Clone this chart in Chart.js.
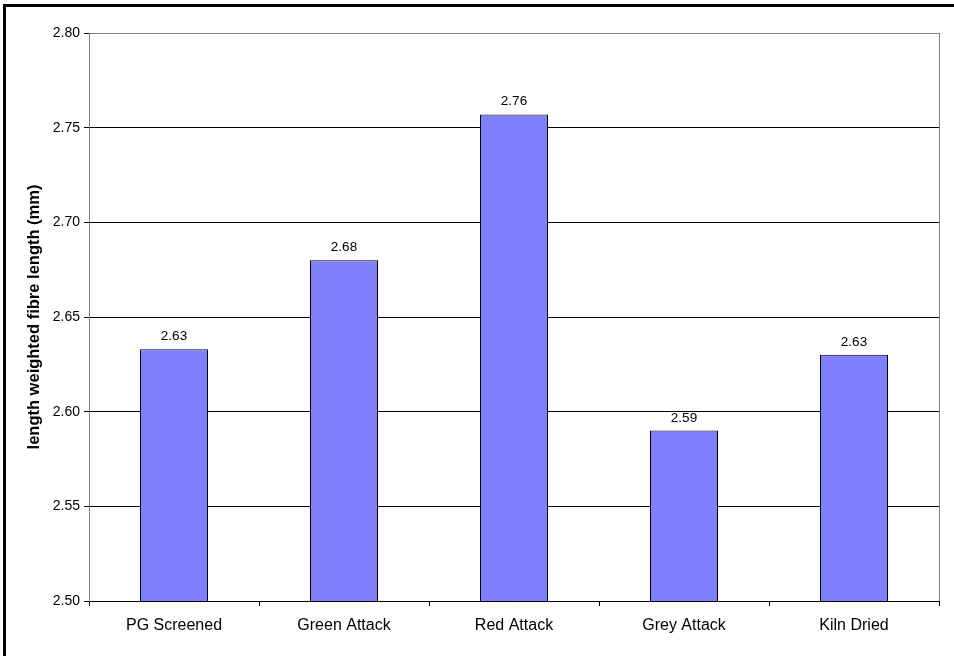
<!DOCTYPE html>
<html>
<head>
<meta charset="utf-8">
<title>Length weighted fibre length</title>
<script src="https://cdn.jsdelivr.net/npm/chart.js@4/dist/chart.umd.min.js"></script>
<style>
  html, body { margin: 0; padding: 0; background: #ffffff; }
  canvas { display: block; }
</style>
</head>
<body>
<canvas id="chart" width="954" height="656"></canvas>
<script>
// Sample groups and their length weighted fibre length (mm)
const categories = ['PG Screened', 'Green Attack', 'Red Attack', 'Grey Attack', 'Kiln Dried'];
const fibreLength = [2.633, 2.680, 2.757, 2.590, 2.630];
const yTicks = [2.50, 2.55, 2.60, 2.65, 2.70, 2.75, 2.80];

const FONT = '"Liberation Sans", Arial, Helvetica, sans-serif';

// Frame around the figure, right edge of the plot, and value labels above bars
const decorations = {
  id: 'decorations',
  afterDatasetsDraw(chart) {
    const ctx = chart.ctx;
    ctx.save();
    ctx.font = '13.5px ' + FONT;
    ctx.fillStyle = '#000000';
    ctx.textAlign = 'center';
    ctx.textBaseline = 'alphabetic';
    chart.getDatasetMeta(0).data.forEach((bar, i) => {
      ctx.fillText(fibreLength[i].toFixed(2), bar.x, bar.y - 9);
    });
    ctx.restore();
  },
  afterDraw(chart) {
    const ctx = chart.ctx;
    const area = chart.chartArea;
    ctx.save();
    ctx.strokeStyle = '#808080';
    ctx.lineWidth = 1;
    ctx.beginPath();
    ctx.moveTo(Math.round(area.right) + 0.5, Math.round(area.top));
    ctx.lineTo(Math.round(area.right) + 0.5, Math.round(area.bottom));
    ctx.stroke();
    ctx.fillStyle = '#000000';
    ctx.fillRect(3, 4, 3, chart.height - 4);
    ctx.fillRect(3, 4, chart.width - 3, 3);
    ctx.restore();
  }
};

new Chart(document.getElementById('chart'), {
  type: 'bar',
  data: {
    labels: categories,
    datasets: [{
      data: fibreLength,
      backgroundColor: '#8080FF',
      borderColor: '#000000',
      borderWidth: 1,
      borderSkipped: 'start',
      barPercentage: 0.4,
      categoryPercentage: 1.0
    }]
  },
  options: {
    responsive: false,
    animation: false,
    layout: { padding: { left: 25, top: 33, right: 15, bottom: 0 } },
    plugins: {
      legend: { display: false },
      tooltip: { enabled: false }
    },
    scales: {
      x: {
        offset: true,
        grid: {
          offset: true,
          drawOnChartArea: false,
          drawTicks: true,
          tickLength: 5,
          tickColor: '#000000',
          color: '#000000'
        },
        border: { display: true, color: '#000000', width: 1 },
        ticks: {
          color: '#000000',
          font: { family: FONT, size: 16 },
          padding: 10,
          maxRotation: 0,
          autoSkip: false
        },
        afterFit(scale) { scale.height = 55; }
      },
      y: {
        min: yTicks[0],
        max: yTicks[yTicks.length - 1],
        afterBuildTicks(scale) {
          scale.ticks = yTicks.map(v => ({ value: v }));
        },
        grid: {
          color: ctx => (ctx.tick && Math.abs(ctx.tick.value - 2.8) < 1e-9) ? '#808080' : '#000000',
          lineWidth: 1,
          drawTicks: true,
          tickLength: 5,
          tickColor: '#000000'
        },
        border: { display: true, color: '#808080', width: 1 },
        ticks: {
          color: '#000000',
          font: { family: FONT, size: 14 },
          padding: 4,
          callback: v => Number(v).toFixed(2)
        },
        title: {
          display: true,
          text: 'length weighted fibre length (mm)',
          color: '#000000',
          font: { family: FONT, size: 16.5, weight: 'bold' },
          padding: 0
        },
        afterFit(scale) { scale.width = 64; }
      }
    }
  },
  plugins: [decorations]
});
</script>
</body>
</html>
